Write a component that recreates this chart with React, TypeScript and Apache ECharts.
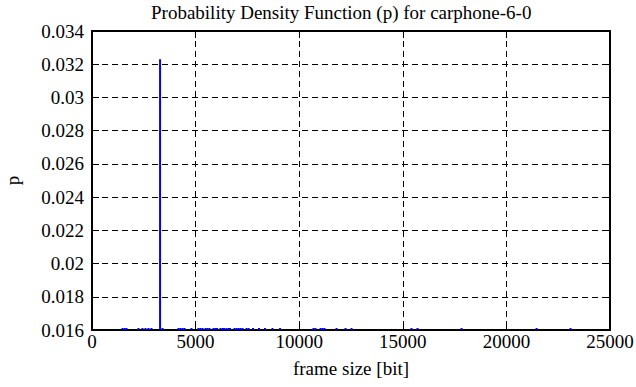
import React, { useEffect, useRef } from "react";
import * as echarts from "echarts";

const TITLE = "Probability Density Function (p) for carphone-6-0";
const X_NAME = "frame size [bit]";
const Y_NAME = "p";

const X_MIN = 0;
const X_MAX = 25000;
const X_STEP = 5000;
const Y_MIN = 0.016;
const Y_MAX = 0.034;
const Y_STEP = 0.002;

const X_TICK_LABELS = ["0", "5000", "10000", "15000", "20000", "25000"];
const Y_TICK_LABELS = ["0.016", "0.018", "0.02", "0.022", "0.024", "0.026", "0.028", "0.03", "0.032", "0.034"];

// frame sizes [bit] with a non-zero probability
const FRAME_SIZES = [
  1470, 1570, 1665, 2245, 2435, 2580, 2725, 2870, 3285, 3405,
  4175, 4270, 4370, 4465, 4800, 5140, 5235, 5335, 5480, 5575,
  5670, 5865, 5960, 6035, 6200, 6300, 6370, 6490, 6590, 6660,
  6875, 6975, 7070, 7165, 7265, 7455, 7555, 7770, 8060, 8350,
  8710, 9075, 10690, 10785, 11030, 11125, 11220, 11800, 12235, 12525,
  15420, 15710, 17835, 21455, 23095,
];
// probability p for each frame size (values below 0.016 lie under the visible range)
const PROBABILITIES = [
  0.0027, 0.0027, 0.0027, 0.0027, 0.0027, 0.0027, 0.0027, 0.0027, 0.0323, 0.0027,
  0.0027, 0.0027, 0.0027, 0.0027, 0.0027, 0.0027, 0.0027, 0.0027, 0.0027, 0.0027,
  0.0027, 0.0027, 0.0027, 0.0027, 0.0027, 0.0027, 0.0027, 0.0027, 0.0027, 0.0027,
  0.0027, 0.0027, 0.0027, 0.0027, 0.0027, 0.0027, 0.0027, 0.0027, 0.0027, 0.0027,
  0.0027, 0.0027, 0.0027, 0.0027, 0.0027, 0.0027, 0.0027, 0.0027, 0.0027, 0.0027,
  0.0027, 0.0027, 0.0027, 0.0027, 0.0027,
];

const FONT = "'Liberation Serif', 'DejaVu Serif', serif";

export default function App() {
  const ref = useRef<HTMLDivElement>(null);

  useEffect(() => {
    if (!ref.current) return;
    const chart = echarts.init(ref.current, undefined, { renderer: "svg" });
    const textStyle = { color: "#000", fontFamily: FONT, fontSize: 19 };
    const axisLine = { show: true, onZero: false, lineStyle: { color: "#000", width: 2 } };
    const axisTick = { show: true, inside: true, length: 7, lineStyle: { color: "#000", width: 1 } };
    const splitLine = { show: true, lineStyle: { color: "#000", width: 1, type: [6, 4] as any } };

    chart.setOption({
      animation: false,
      backgroundColor: "#fff",
      title: {
        text: TITLE,
        left: 146,
        top: -2,
        textStyle: { ...textStyle, fontWeight: "normal" },
      },
      grid: { left: 92, right: 26, top: 31, height: 299, containLabel: false, outerBoundsMode: "none" },
      xAxis: [
        {
          type: "value",
          position: "bottom",
          min: X_MIN,
          max: X_MAX,
          interval: X_STEP,
          name: X_NAME,
          nameLocation: "middle",
          nameGap: 29,
          nameTextStyle: textStyle,
          axisLine,
          axisTick,
          splitLine,
          axisLabel: {
            color: "#000",
            fontFamily: FONT,
            fontSize: 19,
            margin: 2,
            formatter: (_v: number, i: number) => X_TICK_LABELS[i] ?? "",
          },
        },
        {
          type: "value",
          position: "top",
          min: X_MIN,
          max: X_MAX,
          interval: X_STEP,
          axisLine,
          axisTick,
          splitLine: { show: false },
          axisLabel: { show: false },
        },
      ],
      yAxis: [
        {
          type: "value",
          position: "left",
          min: Y_MIN,
          max: Y_MAX,
          interval: Y_STEP,
          name: Y_NAME,
          nameLocation: "middle",
          nameGap: 70,
          nameTextStyle: textStyle,
          axisLine,
          axisTick,
          splitLine,
          axisLabel: {
            color: "#000",
            fontFamily: FONT,
            fontSize: 19,
            margin: 8,
            formatter: (_v: number, i: number) => Y_TICK_LABELS[i] ?? "",
          },
        },
        {
          type: "value",
          position: "right",
          min: Y_MIN,
          max: Y_MAX,
          interval: Y_STEP,
          axisLine,
          axisTick,
          splitLine: { show: false },
          axisLabel: { show: false },
        },
      ],
      series: [
        {
          type: "custom",
          xAxisIndex: 0,
          yAxisIndex: 0,
          clip: true,
          encode: { x: 0, y: 1 },
          data: FRAME_SIZES.map((f, i) => [f, PROBABILITIES[i]]),
          renderItem: (_params: any, api: any) => {
            const x = api.value(0) as number;
            const p = api.value(1) as number;
            const base = api.coord([x, Y_MIN]);
            const top = api.coord([x, Math.max(p, Y_MIN)]);
            const yTop = Math.min(top[1], base[1] - 2);
            return {
              type: "line",
              shape: { x1: base[0], y1: base[1], x2: base[0], y2: yTop },
              style: { stroke: "#0000ff", lineWidth: 2 },
            };
          },
        },
      ],
    });

    return () => chart.dispose();
  }, []);

  return (
    <div
      ref={ref}
      style={{ position: "fixed", left: 0, top: 0, width: 636, height: 387, background: "#fff" }}
    />
  );
}
